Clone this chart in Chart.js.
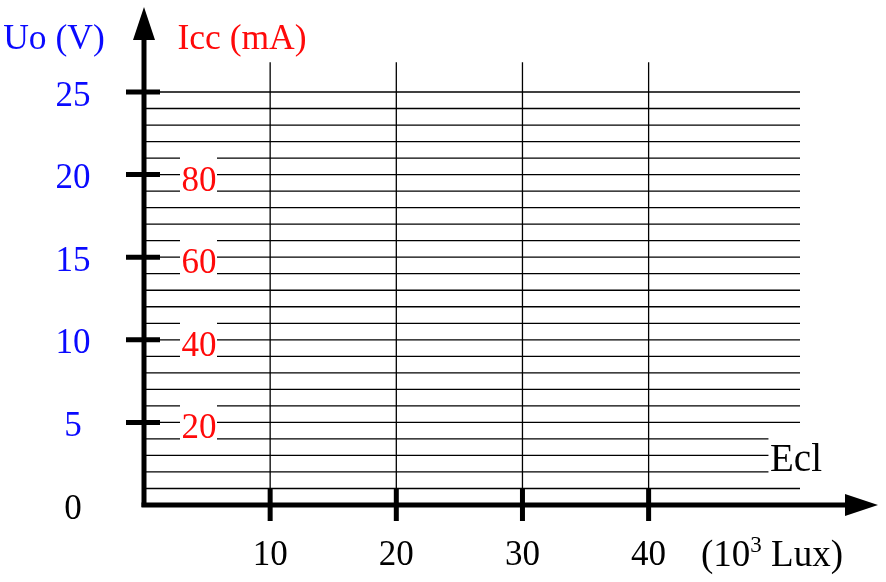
<!DOCTYPE html>
<html>
<head>
<meta charset="utf-8">
<script src="https://cdn.jsdelivr.net/npm/chart.js@4/dist/chart.umd.min.js"></script>
<style>
  html, body { margin: 0; padding: 0; background: #fff; }
  canvas { display: block; }
</style>
</head>
<body>
<canvas id="chart" width="886" height="582"></canvas>
<script>
// axis values
const uoTicks = [0, 5, 10, 15, 20, 25];        // Uo (V)
const iccTicks = [20, 40, 60, 80];             // Icc (mA), Icc = 4 * Uo
const eclTicks = [10, 20, 30, 40];             // Ecl (10^3 Lux)

// grid of the empty graph paper
const gridUo = [1, 2, 3, 4, 5, 6, 7, 8, 9, 10, 11, 12, 13, 14, 15, 16, 17, 18, 19, 20, 21, 22, 23, 24, 25];
const shortUo = [2, 3, 4];     // lines cut short by the "Ecl" label
const gridEnd = 52;
const shortEnd = 49.5;
const gridTop = 26.8;

const BLUE = '#0a0aff';
const RED = '#ff0a0a';
const FAMILY = '"Liberation Serif", "DejaVu Serif", serif';
const FONT = '35px ' + FAMILY;
const TITLE_FONT = '35.5px ' + FAMILY;
const UNIT_FONT = '37px ' + FAMILY;
const ECL_FONT = '39px ' + FAMILY;

const lineStyle = {
  showLine: true,
  borderColor: '#000',
  borderWidth: 1.3,
  pointRadius: 0,
  clip: false
};

const datasets = [];
gridUo.forEach((v) => {
  const end = shortUo.includes(v) ? shortEnd : gridEnd;
  datasets.push({ ...lineStyle, data: [{ x: 0, y: v }, { x: end, y: v }] });
});
eclTicks.forEach((v) => {
  datasets.push({ ...lineStyle, data: [{ x: v, y: 0 }, { x: v, y: gridTop }] });
});

// axes, arrows, ticks and labels drawn over the grid
const axesPlugin = {
  id: 'axes',
  afterDatasetsDraw(chart) {
    const ctx = chart.ctx;
    const xs = chart.scales.x, ys = chart.scales.y, y2 = chart.scales.y2;
    const x0 = xs.getPixelForValue(0);
    const yb = ys.getPixelForValue(0);
    ctx.save();
    ctx.font = FONT;
    ctx.textAlign = 'center';

    // red Icc labels with a white box behind
    iccTicks.forEach((v) => {
      const py = y2.getPixelForValue(v);
      ctx.fillStyle = '#fff';
      ctx.fillRect(x0 + 36, py - 21, 37, 42);
      ctx.fillStyle = RED;
      ctx.fillText(String(v), x0 + 55, py + 16);
    });

    ctx.strokeStyle = '#000';
    ctx.fillStyle = '#000';
    ctx.lineWidth = 5;

    // vertical axis + arrow
    ctx.beginPath();
    ctx.moveTo(x0, yb + 2);
    ctx.lineTo(x0, ys.top - 55);
    ctx.stroke();
    ctx.beginPath();
    ctx.moveTo(x0, ys.top - 85);
    ctx.lineTo(x0 - 11, ys.top - 52);
    ctx.lineTo(x0 + 11, ys.top - 52);
    ctx.closePath();
    ctx.fill();

    // horizontal axis + arrow
    ctx.beginPath();
    ctx.moveTo(x0 - 2.5, yb);
    ctx.lineTo(xs.right + 48, yb);
    ctx.stroke();
    ctx.beginPath();
    ctx.moveTo(xs.right + 78, yb);
    ctx.lineTo(xs.right + 45, yb - 11);
    ctx.lineTo(xs.right + 45, yb + 11);
    ctx.closePath();
    ctx.fill();

    // tick marks
    uoTicks.forEach((v) => {
      if (v === 0) return;
      const py = ys.getPixelForValue(v);
      ctx.beginPath();
      ctx.moveTo(x0 - 18, py);
      ctx.lineTo(x0 + 16, py);
      ctx.stroke();
    });
    eclTicks.forEach((v) => {
      const px = xs.getPixelForValue(v);
      ctx.beginPath();
      ctx.moveTo(px, yb - 16);
      ctx.lineTo(px, yb + 16);
      ctx.stroke();
    });

    // Uo labels (the origin is black)
    uoTicks.forEach((v) => {
      const py = ys.getPixelForValue(v);
      ctx.fillStyle = v === 0 ? '#000' : BLUE;
      ctx.fillText(String(v), x0 - 71, py + 13.5);
    });

    // x labels
    ctx.fillStyle = '#000';
    eclTicks.forEach((v) => {
      ctx.fillText(String(v), xs.getPixelForValue(v), yb + 60);
    });

    // (10^3 Lux) with a raised exponent
    const partA = '(10', partB = '3', partC = ' Lux)';
    const supFont = '23px ' + FAMILY;
    ctx.font = UNIT_FONT;
    const wA = ctx.measureText(partA).width;
    const wC = ctx.measureText(partC).width;
    ctx.font = supFont;
    const wB = ctx.measureText(partB).width;
    let tx = xs.right - 28 - (wA + wB + wC) / 2;
    ctx.textAlign = 'left';
    ctx.font = UNIT_FONT;
    ctx.fillText(partA, tx, yb + 61);
    tx += wA;
    ctx.font = supFont;
    ctx.fillText(partB, tx, yb + 47);
    tx += wB;
    ctx.font = UNIT_FONT;
    ctx.fillText(partC, tx, yb + 61);

    ctx.font = ECL_FONT;
    ctx.fillText('Ecl', xs.right - 30, yb - 34);

    // axis titles
    ctx.font = TITLE_FONT;
    ctx.textAlign = 'center';
    ctx.fillStyle = BLUE;
    ctx.fillText('Uo (V)', x0 - 90, ys.top - 43);
    ctx.fillStyle = RED;
    ctx.fillText('Icc (mA)', x0 + 98, ys.top - 43);
    ctx.restore();
  }
};

const chart = new Chart(document.getElementById('chart').getContext('2d'), {
  type: 'scatter',
  data: { datasets: datasets },
  options: {
    responsive: false,
    animation: false,
    events: [],
    layout: { padding: { left: 144, right: 86, top: 92, bottom: 77 } },
    scales: {
      x: { type: 'linear', min: 0, max: gridEnd, display: false },
      y: { type: 'linear', min: 0, max: 25, display: false },
      y2: { type: 'linear', min: 0, max: 100, display: false }
    },
    plugins: { legend: { display: false }, tooltip: { enabled: false } }
  },
  plugins: [axesPlugin]
});
</script>
</body>
</html>
